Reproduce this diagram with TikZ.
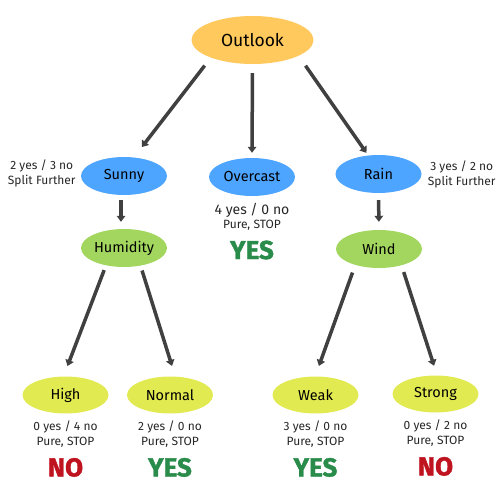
\documentclass[tikz,border=0pt]{standalone}
\usepackage{fontspec}
\setmainfont{Fira Sans}
\newfontfamily\verdictfont{Fira Sans}[BoldFeatures={FakeBold=1.5}]
\usepackage{xcolor}
\usepackage{tikz}
\usetikzlibrary{arrows.meta,positioning,shapes.geometric}
\definecolor{outlookfill}{HTML}{FFC95E}
\definecolor{valfill}{HTML}{4EA5FF}
\definecolor{attrfill}{HTML}{A2D65F}
\definecolor{leaffill}{HTML}{E2EA52}
\definecolor{arrowgray}{HTML}{404040}
\definecolor{yesgreen}{HTML}{2A8C4A}
\definecolor{nored}{HTML}{BF1320}

\begin{document}
\begin{tikzpicture}[
  x=1pt, y=-1pt,
  node distance=6pt,
  root/.style={ellipse, fill=outlookfill, minimum width=122pt, minimum height=48pt,
               inner sep=0pt, font=\fontsize{17.5}{20}\selectfont},
  val/.style={ellipse, fill=valfill, minimum width=86pt, minimum height=38pt,
              inner sep=0pt, font=\fontsize{14.5}{17}\selectfont},
  attr/.style={val, fill=attrfill},
  leaf/.style={val, fill=leaffill, minimum height=37pt},
  cnt/.style={align=center, inner sep=0pt, text=black!85, font=\fontsize{12}{15}\selectfont},
  verdict/.style={inner sep=0pt, font=\verdictfont\bfseries\fontsize{26}{28}\selectfont},
  link/.style={draw=arrowgray, line width=3.5pt, -{Triangle[length=6pt, width=8.5pt]}}
]
\useasboundingbox (0,0) rectangle (500,500);

\node[root] (outlook) at (252.5,40) {Outlook};
\node[val] (sunny) at (124,176) {Sunny};
\node[val] (overcast) at (252,177) {Overcast};
\node[val] (rain) at (378.5,174) {Rain};
\node[attr] (humidity) at (124,248) {Humidity};
\node[attr] (wind) at (379,249) {Wind};
\node[leaf] (high) at (65.5,395) {High};
\node[leaf] (normal) at (170,395) {Normal};
\node[leaf] (weak) at (315.5,395) {Weak};
\node[leaf] (strong) at (435.5,394) {Strong};

\node[cnt, left=5pt of sunny, yshift=3pt] (sunnycnt) {2 yes / 3 no\\Split Further};
\node[cnt, right=6pt of rain] (raincnt) {3 yes / 2 no\\Split Further};
\node[cnt, below=7pt of overcast, font=\fontsize{12}{13.5}\selectfont] (overcastcnt)
  {{\fontsize{14}{16}\selectfont 4 yes / 0 no}\\Pure, STOP};
\node[verdict, text=yesgreen, below=10pt of overcastcnt] (overcastyes) {YES};

\node[cnt, below=7pt of high] (highcnt) {0 yes / 4 no\\Pure, STOP};
\node[cnt, below=7pt of normal] (normalcnt) {2 yes / 0 no\\Pure, STOP};
\node[cnt, below=7pt of weak] (weakcnt) {3 yes / 0 no\\Pure, STOP};
\node[cnt, below=7pt of strong] (strongcnt) {0 yes / 2 no\\Pure, STOP};
\node[verdict, text=nored, below=10pt of highcnt] (highno) {NO};
\node[verdict, text=yesgreen, below=10pt of normalcnt] (normalyes) {YES};
\node[verdict, text=yesgreen, below=10pt of weakcnt] (weakyes) {YES};
\node[verdict, text=nored, below=10pt of strongcnt] (strongno) {NO};

\draw[link, shorten <=10pt, shorten >=13pt] (outlook.203) -- (sunny.62);
\draw[link, shorten <=9pt, shorten >=5pt] (outlook.south) -- (overcast.north);
\draw[link, shorten <=12pt, shorten >=3pt] (outlook.341) -- (rain.119);
\draw[link, shorten <=5pt, shorten >=7pt] ([xshift=-3pt]sunny.south) -- ([xshift=-3pt]humidity.north);
\draw[link, shorten <=7pt, shorten >=8pt] (rain.south) -- (wind.north);
\draw[link, shorten <=5pt, shorten >=11pt] (humidity.224) -- (high.96);
\draw[link, shorten <=5pt, shorten >=11pt] (humidity.313) -- (normal.74);
\draw[link, shorten <=8pt, shorten >=11pt] (wind.214) -- (weak.91);
\draw[link, shorten <=7pt, shorten >=10pt] (wind.324) -- (strong.85);
\end{tikzpicture}
\end{document}
